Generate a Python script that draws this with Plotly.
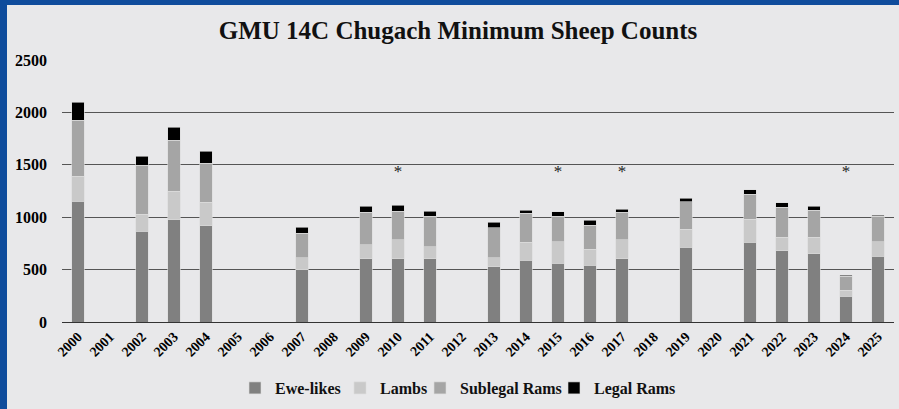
import plotly.graph_objects as go

years = [str(y) for y in range(2000, 2026)]

# counts per year (None = no survey)
ewe_likes = [1153, None, 866, 975, 917, None, None, 497, None, 602, 602, 602, None, 525, 589, 561, 542, 602, None, 714, None, 761, 678, 653, 248, 628]
lambs = [239, None, 160, 274, 226, None, None, 114, None, 137, 185, 118, None, 90, 172, 207, 153, 185, None, 172, None, 220, 131, 156, 55, 140]
sublegal_rams = [535, None, 471, 484, 370, None, None, 236, None, 306, 271, 287, None, 283, 277, 242, 229, 258, None, 260, None, 236, 287, 258, 134, 239]
legal_rams = [169, None, 86, 127, 118, None, None, 58, None, 60, 57, 48, None, 52, 29, 41, 48, 29, None, 33, None, 44, 41, 38, 9, 12]

star_years = ["2010", "2015", "2017", "2024"]
star_y = 1420

serif = "Liberation Serif"

fig = go.Figure()
series = [
    ("Ewe-likes", ewe_likes, "#808080"),
    ("Lambs", lambs, "#c9c9c9"),
    ("Sublegal Rams", sublegal_rams, "#a5a5a5"),
    ("Legal Rams", legal_rams, "#000000"),
]
legend_ids = ["legend", "legend2", "legend3", "legend4"]
legend_px = [235, 340, 420, 554]  # left edge of each legend entry, px
for (name, vals, col), lid in zip(series, legend_ids):
    fig.add_trace(go.Bar(x=years, y=vals, name="<b>" + name + "</b>", legend=lid,
                         marker=dict(color=col, line=dict(color="#dcdcdc", width=0.6))))

fig.add_trace(go.Scatter(x=star_years, y=[star_y] * len(star_years), mode="text",
                         text=["*"] * len(star_years), showlegend=False,
                         textfont=dict(family=serif, size=17, color="#222222"),
                         hoverinfo="skip"))

# blue frame on the left and top
fig.add_shape(type="rect", xref="paper", yref="paper",
              x0=-70 / 832, x1=-55 / 832, y0=-95 / 262, y1=1 + 70 / 262,
              fillcolor="#0f4c9c", line_width=0, layer="above")
fig.add_shape(type="rect", xref="paper", yref="paper",
              x0=-70 / 832, x1=1 + 10 / 832, y0=1 + 55 / 262, y1=1 + 70 / 262,
              fillcolor="#0f4c9c", line_width=0, layer="above")

fig.update_layout(
    barmode="stack",
    bargap=0.61,
    width=899, height=409,
    margin=dict(l=62, r=5, t=60, b=87),
    paper_bgcolor="#e8e8ea",
    plot_bgcolor="#e8e8ea",
    font=dict(family=serif, color="#000000"),
    title=dict(text="<b>GMU 14C Chugach Minimum Sheep Counts</b>",
               x=458 / 899, xanchor="center", y=0.925, yanchor="middle",
               font=dict(family=serif, size=25, color="#111111")),
    showlegend=True,
)
for lid, px in zip(legend_ids, legend_px):
    fig.update_layout({lid: dict(orientation="h", x=px / 899, xanchor="left", xref="container",
                                 y=21 / 409, yref="container", yanchor="middle",
                                 bgcolor="rgba(0,0,0,0)",
                                 font=dict(family=serif, size=16, color="#111111"),
                                 itemwidth=30)})
fig.update_xaxes(type="category", tickangle=-45, showgrid=False,
                 tickfont=dict(family=serif, size=14, color="#000000"),
                 tickprefix="<b>", ticksuffix="</b>",
                 showline=True, linecolor="#333333", linewidth=1, ticks="")
fig.update_yaxes(range=[0, 2500], dtick=500, showgrid=True, gridcolor="#555555",
                 gridwidth=1, zeroline=False, showline=False, ticks="",
                 ticklabelstandoff=14, tickprefix="<b>", ticksuffix="</b>",
                 tickfont=dict(family=serif, size=16, color="#000000"))

fig.write_html("out.html", config={"displayModeBar": False},
               post_script="document.body.style.margin='0';")
